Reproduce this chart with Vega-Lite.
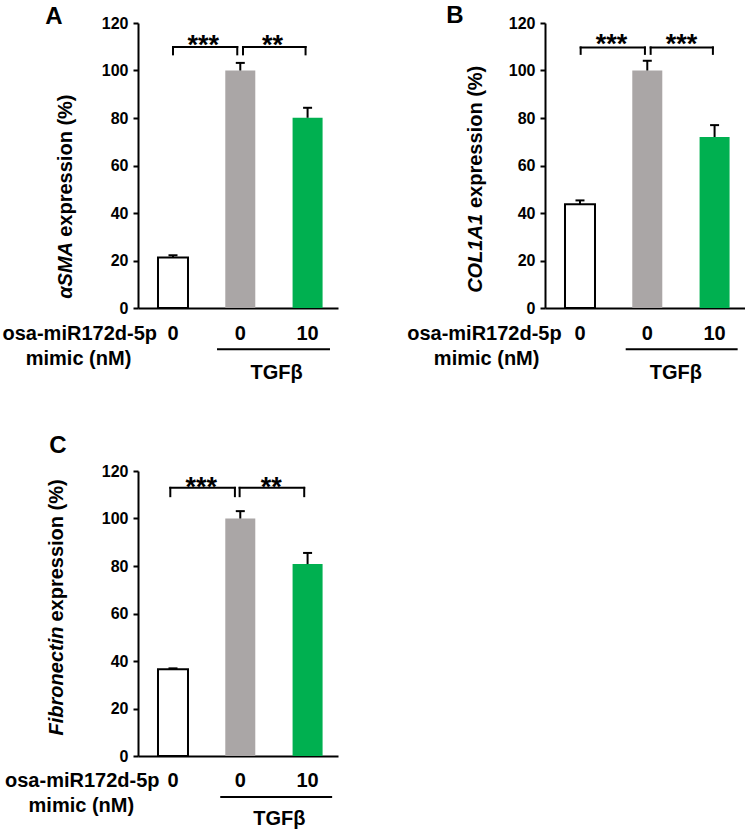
{
  "$schema": "https://vega.github.io/schema/vega-lite/v6.json",
  "padding": {"left": 2, "top": 4, "right": 0, "bottom": 0},
  "bounds": "flush",
  "spacing": {"row": 163, "column": 207},
  "columns": 2,
  "data": {
    "values": [
      {"kind": "bar", "panel": "A", "pos": 1, "dose": "0", "treatment": "Control", "value": 21.3, "upper": 22.2},
      {"kind": "bar", "panel": "A", "pos": 2, "dose": "0", "treatment": "TGFβ", "value": 100, "upper": 103.2},
      {"kind": "bar", "panel": "A", "pos": 3, "dose": "10", "treatment": "TGFβ + mimic", "value": 80.1, "upper": 84.3},
      {"kind": "bar", "panel": "B", "pos": 1, "dose": "0", "treatment": "Control", "value": 43.7, "upper": 45.3},
      {"kind": "bar", "panel": "B", "pos": 2, "dose": "0", "treatment": "TGFβ", "value": 100, "upper": 104.1},
      {"kind": "bar", "panel": "B", "pos": 3, "dose": "10", "treatment": "TGFβ + mimic", "value": 72.0, "upper": 77.0},
      {"kind": "bar", "panel": "C", "pos": 1, "dose": "0", "treatment": "Control", "value": 36.5, "upper": 36.9},
      {"kind": "bar", "panel": "C", "pos": 2, "dose": "0", "treatment": "TGFβ", "value": 100, "upper": 103.1},
      {"kind": "bar", "panel": "C", "pos": 3, "dose": "10", "treatment": "TGFβ + mimic", "value": 80.8, "upper": 85.5},

      {"kind": "seg", "panel": "A", "x1": 1.0, "x2": 1.955, "y1": 109.9, "y2": 109.9},
      {"kind": "seg", "panel": "A", "x1": 1.0, "x2": 1.0, "y1": 109.9, "y2": 106.8},
      {"kind": "seg", "panel": "A", "x1": 1.955, "x2": 1.955, "y1": 109.9, "y2": 106.8},
      {"kind": "seg", "panel": "A", "x1": 2.04, "x2": 2.97, "y1": 109.9, "y2": 109.9},
      {"kind": "seg", "panel": "A", "x1": 2.04, "x2": 2.04, "y1": 109.9, "y2": 106.8},
      {"kind": "seg", "panel": "A", "x1": 2.97, "x2": 2.97, "y1": 109.9, "y2": 106.8},
      {"kind": "seg", "panel": "A", "x1": 1.669, "x2": 3.318, "y1": -17.4, "y2": -17.4},
      {"kind": "seg", "panel": "B", "x1": 1.01, "x2": 1.965, "y1": 109.7, "y2": 109.7},
      {"kind": "seg", "panel": "B", "x1": 1.01, "x2": 1.01, "y1": 109.7, "y2": 107.0},
      {"kind": "seg", "panel": "B", "x1": 1.965, "x2": 1.965, "y1": 109.7, "y2": 107.0},
      {"kind": "seg", "panel": "B", "x1": 2.05, "x2": 2.975, "y1": 109.7, "y2": 109.7},
      {"kind": "seg", "panel": "B", "x1": 2.05, "x2": 2.05, "y1": 109.7, "y2": 107.0},
      {"kind": "seg", "panel": "B", "x1": 2.975, "x2": 2.975, "y1": 109.7, "y2": 107.0},
      {"kind": "seg", "panel": "B", "x1": 1.694, "x2": 3.328, "y1": -17.4, "y2": -17.4},
      {"kind": "seg", "panel": "C", "x1": 0.96, "x2": 1.92, "y1": 112.9, "y2": 112.9},
      {"kind": "seg", "panel": "C", "x1": 0.96, "x2": 0.96, "y1": 112.9, "y2": 109.4},
      {"kind": "seg", "panel": "C", "x1": 1.92, "x2": 1.92, "y1": 112.9, "y2": 109.4},
      {"kind": "seg", "panel": "C", "x1": 1.99, "x2": 2.95, "y1": 112.9, "y2": 112.9},
      {"kind": "seg", "panel": "C", "x1": 1.99, "x2": 1.99, "y1": 112.9, "y2": 109.4},
      {"kind": "seg", "panel": "C", "x1": 2.95, "x2": 2.95, "y1": 112.9, "y2": 109.4},
      {"kind": "seg", "panel": "C", "x1": 1.717, "x2": 3.35, "y1": -17.3, "y2": -17.3},

      {"kind": "stars", "panel": "A", "x": 1.45, "y": 106.8, "text": "***"},
      {"kind": "stars", "panel": "A", "x": 2.48, "y": 106.8, "text": "**"},
      {"kind": "stars", "panel": "B", "x": 1.47, "y": 107.2, "text": "***"},
      {"kind": "stars", "panel": "B", "x": 2.51, "y": 107.2, "text": "***"},
      {"kind": "stars", "panel": "C", "x": 1.42, "y": 109.4, "text": "***"},
      {"kind": "stars", "panel": "C", "x": 2.46, "y": 109.4, "text": "**"},

      {"kind": "osa", "panel": "A", "x": 0.762, "y": -11.1, "text": "osa-miR172d-5p"},
      {"kind": "osa", "panel": "B", "x": 0.728, "y": -11.1, "text": "osa-miR172d-5p"},
      {"kind": "osa", "panel": "C", "x": 0.80, "y": -10.6, "text": "osa-miR172d-5p"},
      {"kind": "center", "panel": "A", "x": -0.404, "y": -21.5, "text": "mimic (nM)"},
      {"kind": "center", "panel": "B", "x": -0.387, "y": -21.5, "text": "mimic (nM)"},
      {"kind": "center", "panel": "C", "x": -0.362, "y": -21.1, "text": "mimic (nM)"},
      {"kind": "center", "panel": "A", "x": 2.541, "y": -27.5, "text": "TGFβ"},
      {"kind": "center", "panel": "B", "x": 2.423, "y": -27.5, "text": "TGFβ"},
      {"kind": "center", "panel": "C", "x": 2.58, "y": -26.7, "text": "TGFβ"},
      {"kind": "letter", "panel": "A", "x": -0.768, "y": 119.6, "text": "A"},
      {"kind": "letter", "panel": "B", "x": -0.857, "y": 120.0, "text": "B"},
      {"kind": "letter", "panel": "C", "x": -0.709, "y": 127.6, "text": "C"},
      {"kind": "title_i", "panel": "A", "x": -0.505, "y": 27.8, "text": "αSMA"},
      {"kind": "title_i", "panel": "B", "x": -0.456, "y": 39.6, "text": "COL1A1"},
      {"kind": "title_i", "panel": "C", "x": -0.634, "y": 54.5, "text": "Fibronectin"},
      {"kind": "title_p", "panel": "A", "x": -0.505, "y": 30.0, "text": "expression (%)"},
      {"kind": "title_p", "panel": "B", "x": -0.456, "y": 42.1, "text": "expression (%)"},
      {"kind": "title_p", "panel": "C", "x": -0.634, "y": 56.6, "text": "expression (%)"}
    ]
  },
  "concat": [
    {
      "transform": [{"filter": "datum.panel === 'A'"}],
      "width": 200, "height": 285,
      "layer": [
        {"transform": [{"filter": "datum.kind === 'bar'"}],
         "mark": {"type": "bar", "width": 30, "stroke": "black"},
         "encoding": {
           "x": {"field": "pos", "type": "quantitative", "title": null,
             "scale": {"domain": [0.48, 3.452], "nice": false, "zero": false, "padding": 0},
             "axis": {"ticks": false, "labels": false, "grid": false, "domainColor": "black", "domainWidth": 2}},
           "y": {"field": "value", "type": "quantitative", "title": null,
             "scale": {"domain": [0, 120], "nice": false, "padding": 0},
             "axis": {"values": [0, 20, 40, 60, 80, 100, 120], "grid": false, "domainColor": "black", "domainWidth": 2, "tickColor": "black", "tickWidth": 2, "tickSize": 5, "labelFont": "Liberation Sans", "labelFontWeight": "bold", "labelFontSize": 16, "labelColor": "black", "labelPadding": 5}},
           "fill": {"field": "treatment", "type": "nominal", "scale": {"domain": ["Control", "TGFβ", "TGFβ + mimic"], "range": ["#ffffff", "#aaa6a6", "#00b050"]}, "legend": null},
           "strokeWidth": {"condition": {"test": "datum.treatment === 'Control'", "value": 2}, "value": 0}}},
        {"transform": [{"filter": "datum.kind === 'bar'"}],
         "mark": {"type": "rule", "color": "black", "strokeWidth": 2},
         "encoding": {"x": {"field": "pos", "type": "quantitative", "title": null}, "y": {"field": "value", "type": "quantitative", "title": null}, "y2": {"field": "upper"}}},
        {"transform": [{"filter": "datum.kind === 'bar'"}],
         "mark": {"type": "tick", "orient": "horizontal", "color": "black", "thickness": 2, "opacity": 1},
         "encoding": {"x": {"field": "pos", "type": "quantitative", "title": null}, "y": {"field": "upper", "type": "quantitative", "title": null}, "size": {"value": 9}}},
        {"transform": [{"filter": "datum.kind === 'bar'"}],
         "mark": {"type": "text", "fontSize": 20, "fontWeight": "bold", "align": "center", "baseline": "middle", "color": "black"},
         "encoding": {"x": {"field": "pos", "type": "quantitative", "title": null}, "y": {"datum": -11}, "text": {"field": "dose"}}},
        {"transform": [{"filter": "datum.kind === 'seg'"}],
         "mark": {"type": "rule", "color": "black", "strokeWidth": 2, "strokeCap": "square"},
         "encoding": {"x": {"field": "x1", "type": "quantitative", "title": null}, "x2": {"field": "x2"}, "y": {"field": "y1", "type": "quantitative", "title": null}, "y2": {"field": "y2"}}},
        {"transform": [{"filter": "datum.kind === 'stars'"}],
         "mark": {"type": "text", "fontSize": 27, "fontWeight": "bold", "align": "center", "baseline": "alphabetic", "color": "black"},
         "encoding": {"x": {"field": "x", "type": "quantitative", "title": null}, "y": {"field": "y", "type": "quantitative", "title": null}, "text": {"field": "text"}}},
        {"transform": [{"filter": "datum.kind === 'osa'"}],
         "mark": {"type": "text", "fontSize": 20, "fontWeight": "bold", "align": "right", "baseline": "middle", "color": "black"},
         "encoding": {"x": {"field": "x", "type": "quantitative", "title": null}, "y": {"field": "y", "type": "quantitative", "title": null}, "text": {"field": "text"}}},
        {"transform": [{"filter": "datum.kind === 'center'"}],
         "mark": {"type": "text", "fontSize": 20, "fontWeight": "bold", "align": "center", "baseline": "middle", "color": "black"},
         "encoding": {"x": {"field": "x", "type": "quantitative", "title": null}, "y": {"field": "y", "type": "quantitative", "title": null}, "text": {"field": "text"}}},
        {"transform": [{"filter": "datum.kind === 'letter'"}],
         "mark": {"type": "text", "fontSize": 24, "fontWeight": "bold", "align": "center", "baseline": "alphabetic", "color": "black"},
         "encoding": {"x": {"field": "x", "type": "quantitative", "title": null}, "y": {"field": "y", "type": "quantitative", "title": null}, "text": {"field": "text"}}},
        {"transform": [{"filter": "datum.kind === 'title_i'"}],
         "mark": {"type": "text", "fontSize": 20, "fontWeight": "bold", "fontStyle": "italic", "angle": 270, "align": "right", "baseline": "alphabetic", "color": "black"},
         "encoding": {"x": {"field": "x", "type": "quantitative", "title": null}, "y": {"field": "y", "type": "quantitative", "title": null}, "text": {"field": "text"}}},
        {"transform": [{"filter": "datum.kind === 'title_p'"}],
         "mark": {"type": "text", "fontSize": 20, "fontWeight": "bold", "angle": 270, "align": "left", "baseline": "alphabetic", "color": "black"},
         "encoding": {"x": {"field": "x", "type": "quantitative", "title": null}, "y": {"field": "y", "type": "quantitative", "title": null}, "text": {"field": "text"}}}
      ]
    },
    {
      "transform": [{"filter": "datum.panel === 'B'"}],
      "width": 200, "height": 285,
      "layer": [
        {"transform": [{"filter": "datum.kind === 'bar'"}],
         "mark": {"type": "bar", "width": 30, "stroke": "black"},
         "encoding": {
           "x": {"field": "pos", "type": "quantitative", "title": null,
             "scale": {"domain": [0.48, 3.452], "nice": false, "zero": false, "padding": 0},
             "axis": {"ticks": false, "labels": false, "grid": false, "domainColor": "black", "domainWidth": 2}},
           "y": {"field": "value", "type": "quantitative", "title": null,
             "scale": {"domain": [0, 120], "nice": false, "padding": 0},
             "axis": {"values": [0, 20, 40, 60, 80, 100, 120], "grid": false, "domainColor": "black", "domainWidth": 2, "tickColor": "black", "tickWidth": 2, "tickSize": 5, "labelFont": "Liberation Sans", "labelFontWeight": "bold", "labelFontSize": 16, "labelColor": "black", "labelPadding": 5}},
           "fill": {"field": "treatment", "type": "nominal", "scale": {"domain": ["Control", "TGFβ", "TGFβ + mimic"], "range": ["#ffffff", "#aaa6a6", "#00b050"]}, "legend": null},
           "strokeWidth": {"condition": {"test": "datum.treatment === 'Control'", "value": 2}, "value": 0}}},
        {"transform": [{"filter": "datum.kind === 'bar'"}],
         "mark": {"type": "rule", "color": "black", "strokeWidth": 2},
         "encoding": {"x": {"field": "pos", "type": "quantitative", "title": null}, "y": {"field": "value", "type": "quantitative", "title": null}, "y2": {"field": "upper"}}},
        {"transform": [{"filter": "datum.kind === 'bar'"}],
         "mark": {"type": "tick", "orient": "horizontal", "color": "black", "thickness": 2, "opacity": 1},
         "encoding": {"x": {"field": "pos", "type": "quantitative", "title": null}, "y": {"field": "upper", "type": "quantitative", "title": null}, "size": {"value": 9}}},
        {"transform": [{"filter": "datum.kind === 'bar'"}],
         "mark": {"type": "text", "fontSize": 20, "fontWeight": "bold", "align": "center", "baseline": "middle", "color": "black"},
         "encoding": {"x": {"field": "pos", "type": "quantitative", "title": null}, "y": {"datum": -11}, "text": {"field": "dose"}}},
        {"transform": [{"filter": "datum.kind === 'seg'"}],
         "mark": {"type": "rule", "color": "black", "strokeWidth": 2, "strokeCap": "square"},
         "encoding": {"x": {"field": "x1", "type": "quantitative", "title": null}, "x2": {"field": "x2"}, "y": {"field": "y1", "type": "quantitative", "title": null}, "y2": {"field": "y2"}}},
        {"transform": [{"filter": "datum.kind === 'stars'"}],
         "mark": {"type": "text", "fontSize": 27, "fontWeight": "bold", "align": "center", "baseline": "alphabetic", "color": "black"},
         "encoding": {"x": {"field": "x", "type": "quantitative", "title": null}, "y": {"field": "y", "type": "quantitative", "title": null}, "text": {"field": "text"}}},
        {"transform": [{"filter": "datum.kind === 'osa'"}],
         "mark": {"type": "text", "fontSize": 20, "fontWeight": "bold", "align": "right", "baseline": "middle", "color": "black"},
         "encoding": {"x": {"field": "x", "type": "quantitative", "title": null}, "y": {"field": "y", "type": "quantitative", "title": null}, "text": {"field": "text"}}},
        {"transform": [{"filter": "datum.kind === 'center'"}],
         "mark": {"type": "text", "fontSize": 20, "fontWeight": "bold", "align": "center", "baseline": "middle", "color": "black"},
         "encoding": {"x": {"field": "x", "type": "quantitative", "title": null}, "y": {"field": "y", "type": "quantitative", "title": null}, "text": {"field": "text"}}},
        {"transform": [{"filter": "datum.kind === 'letter'"}],
         "mark": {"type": "text", "fontSize": 24, "fontWeight": "bold", "align": "center", "baseline": "alphabetic", "color": "black"},
         "encoding": {"x": {"field": "x", "type": "quantitative", "title": null}, "y": {"field": "y", "type": "quantitative", "title": null}, "text": {"field": "text"}}},
        {"transform": [{"filter": "datum.kind === 'title_i'"}],
         "mark": {"type": "text", "fontSize": 20, "fontWeight": "bold", "fontStyle": "italic", "angle": 270, "align": "right", "baseline": "alphabetic", "color": "black"},
         "encoding": {"x": {"field": "x", "type": "quantitative", "title": null}, "y": {"field": "y", "type": "quantitative", "title": null}, "text": {"field": "text"}}},
        {"transform": [{"filter": "datum.kind === 'title_p'"}],
         "mark": {"type": "text", "fontSize": 20, "fontWeight": "bold", "angle": 270, "align": "left", "baseline": "alphabetic", "color": "black"},
         "encoding": {"x": {"field": "x", "type": "quantitative", "title": null}, "y": {"field": "y", "type": "quantitative", "title": null}, "text": {"field": "text"}}}
      ]
    },
    {
      "transform": [{"filter": "datum.panel === 'C'"}],
      "width": 200, "height": 285,
      "layer": [
        {"transform": [{"filter": "datum.kind === 'bar'"}],
         "mark": {"type": "bar", "width": 30, "stroke": "black"},
         "encoding": {
           "x": {"field": "pos", "type": "quantitative", "title": null,
             "scale": {"domain": [0.48, 3.452], "nice": false, "zero": false, "padding": 0},
             "axis": {"ticks": false, "labels": false, "grid": false, "domainColor": "black", "domainWidth": 2}},
           "y": {"field": "value", "type": "quantitative", "title": null,
             "scale": {"domain": [0, 120], "nice": false, "padding": 0},
             "axis": {"values": [0, 20, 40, 60, 80, 100, 120], "grid": false, "domainColor": "black", "domainWidth": 2, "tickColor": "black", "tickWidth": 2, "tickSize": 5, "labelFont": "Liberation Sans", "labelFontWeight": "bold", "labelFontSize": 16, "labelColor": "black", "labelPadding": 5}},
           "fill": {"field": "treatment", "type": "nominal", "scale": {"domain": ["Control", "TGFβ", "TGFβ + mimic"], "range": ["#ffffff", "#aaa6a6", "#00b050"]}, "legend": null},
           "strokeWidth": {"condition": {"test": "datum.treatment === 'Control'", "value": 2}, "value": 0}}},
        {"transform": [{"filter": "datum.kind === 'bar'"}],
         "mark": {"type": "rule", "color": "black", "strokeWidth": 2},
         "encoding": {"x": {"field": "pos", "type": "quantitative", "title": null}, "y": {"field": "value", "type": "quantitative", "title": null}, "y2": {"field": "upper"}}},
        {"transform": [{"filter": "datum.kind === 'bar'"}],
         "mark": {"type": "tick", "orient": "horizontal", "color": "black", "thickness": 2, "opacity": 1},
         "encoding": {"x": {"field": "pos", "type": "quantitative", "title": null}, "y": {"field": "upper", "type": "quantitative", "title": null}, "size": {"value": 9}}},
        {"transform": [{"filter": "datum.kind === 'bar'"}],
         "mark": {"type": "text", "fontSize": 20, "fontWeight": "bold", "align": "center", "baseline": "middle", "color": "black"},
         "encoding": {"x": {"field": "pos", "type": "quantitative", "title": null}, "y": {"datum": -10.7}, "text": {"field": "dose"}}},
        {"transform": [{"filter": "datum.kind === 'seg'"}],
         "mark": {"type": "rule", "color": "black", "strokeWidth": 2, "strokeCap": "square"},
         "encoding": {"x": {"field": "x1", "type": "quantitative", "title": null}, "x2": {"field": "x2"}, "y": {"field": "y1", "type": "quantitative", "title": null}, "y2": {"field": "y2"}}},
        {"transform": [{"filter": "datum.kind === 'stars'"}],
         "mark": {"type": "text", "fontSize": 27, "fontWeight": "bold", "align": "center", "baseline": "alphabetic", "color": "black"},
         "encoding": {"x": {"field": "x", "type": "quantitative", "title": null}, "y": {"field": "y", "type": "quantitative", "title": null}, "text": {"field": "text"}}},
        {"transform": [{"filter": "datum.kind === 'osa'"}],
         "mark": {"type": "text", "fontSize": 20, "fontWeight": "bold", "align": "right", "baseline": "middle", "color": "black"},
         "encoding": {"x": {"field": "x", "type": "quantitative", "title": null}, "y": {"field": "y", "type": "quantitative", "title": null}, "text": {"field": "text"}}},
        {"transform": [{"filter": "datum.kind === 'center'"}],
         "mark": {"type": "text", "fontSize": 20, "fontWeight": "bold", "align": "center", "baseline": "middle", "color": "black"},
         "encoding": {"x": {"field": "x", "type": "quantitative", "title": null}, "y": {"field": "y", "type": "quantitative", "title": null}, "text": {"field": "text"}}},
        {"transform": [{"filter": "datum.kind === 'letter'"}],
         "mark": {"type": "text", "fontSize": 24, "fontWeight": "bold", "align": "center", "baseline": "alphabetic", "color": "black"},
         "encoding": {"x": {"field": "x", "type": "quantitative", "title": null}, "y": {"field": "y", "type": "quantitative", "title": null}, "text": {"field": "text"}}},
        {"transform": [{"filter": "datum.kind === 'title_i'"}],
         "mark": {"type": "text", "fontSize": 20, "fontWeight": "bold", "fontStyle": "italic", "angle": 270, "align": "right", "baseline": "alphabetic", "color": "black"},
         "encoding": {"x": {"field": "x", "type": "quantitative", "title": null}, "y": {"field": "y", "type": "quantitative", "title": null}, "text": {"field": "text"}}},
        {"transform": [{"filter": "datum.kind === 'title_p'"}],
         "mark": {"type": "text", "fontSize": 20, "fontWeight": "bold", "angle": 270, "align": "left", "baseline": "alphabetic", "color": "black"},
         "encoding": {"x": {"field": "x", "type": "quantitative", "title": null}, "y": {"field": "y", "type": "quantitative", "title": null}, "text": {"field": "text"}}}
      ]
    }
  ],
  "config": {
    "view": {"stroke": null},
    "font": "Liberation Sans",
    "text": {"font": "Liberation Sans"}
  }
}
